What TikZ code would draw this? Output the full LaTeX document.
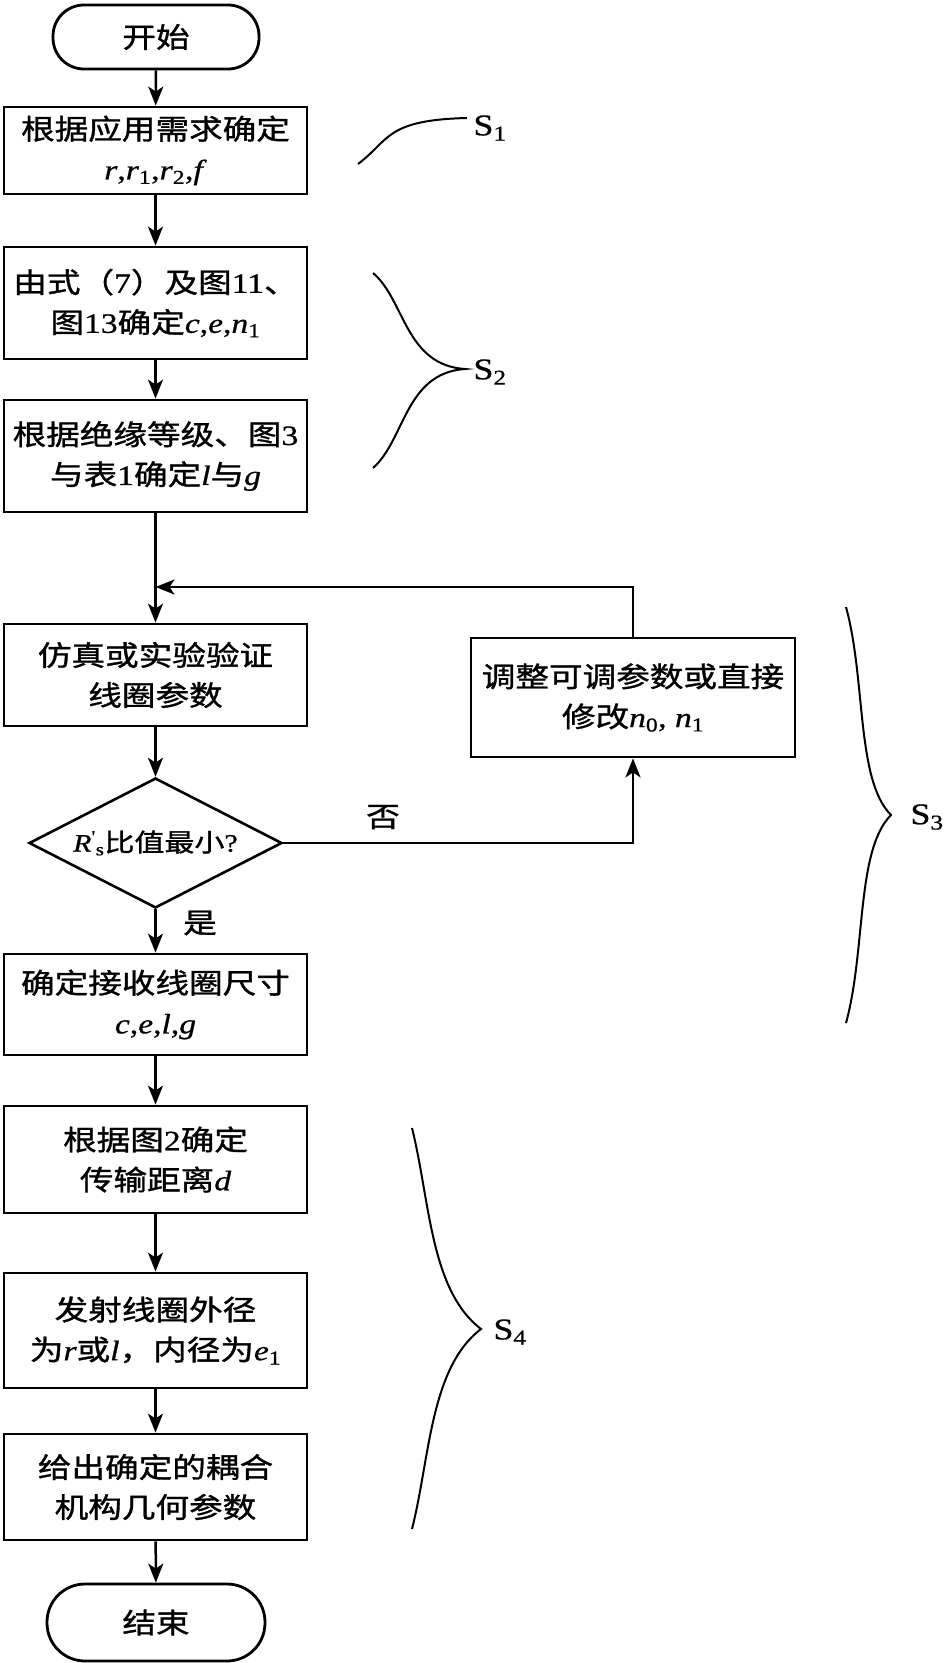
\documentclass[tikz,border=0pt]{standalone}
\usepackage{fontspec}
\setmainfont[FakeStretch=1.2,FakeBold=1.2]{Noto Sans CJK SC}
\newfontfamily\tnr[FakeStretch=1.2,FakeBold=0.8]{Liberation Serif}
\usepackage{tikz}
\usetikzlibrary{arrows.meta,shapes.geometric}

\newcommand{\lat}[1]{{\tnr #1}}
\newcommand{\va}[1]{{\tnr\itshape #1}}

\tikzset{
  box/.style={draw,line width=2.8pt,minimum width=303pt,inner sep=0pt,align=center,
    font=\fontsize{28}{40}\selectfont},
  term/.style={draw,line width=2.8pt,inner sep=0pt,font=\fontsize{28}{40}\selectfont},
  dec/.style={diamond,draw,line width=2.6pt,aspect=1.95,minimum width=253pt,
    minimum height=130pt,inner sep=0pt,font=\fontsize{25}{30}\selectfont},
  arr/.style={line width=2.5pt,-{Stealth[length=19pt,width=15pt,inset=5pt]}},
  curl/.style={line width=2pt},
  slab/.style={font=\tnr\fontsize{30}{34}\selectfont},
  tag/.style={font=\fontsize{28}{30}\selectfont}
}

\begin{document}
\begin{tikzpicture}[x=1pt,y=-1pt]
\useasboundingbox (0,0) rectangle (949,1663);

\node[term,rounded corners=31pt,minimum width=206pt,minimum height=64pt] (start) at (156,37) {开始};
\node[box,minimum height=87pt] (b1) at (155.5,150.5)
  {根据应用需求确定\\ \lat{\textit{r},\textit{r}\textsubscript{1},\textit{r}\textsubscript{2},\textit{f}}};
\node[box,minimum height=112pt] (b2) at (155.5,303)
  {由式（\lat{7}）及图\lat{11}、\\ 图\lat{13}确定\lat{\textit{c},\textit{e},\textit{n}\textsubscript{1}}};
\node[box,minimum height=112pt] (b3) at (155.5,456)
  {根据绝缘等级、图\lat{3}\\ 与表\lat{1}确定\va{l}与\va{g}};
\node[box,minimum height=102pt] (b4) at (155.5,675) {仿真或实验验证\\ 线圈参数};
\node[box,minimum width=324pt,minimum height=119pt] (b5) at (633,697.5)
  {调整可调参数或直接\\ 修改\lat{\textit{n}\textsubscript{0}, \textit{n}\textsubscript{1}}};
\node[dec] (d1) at (155.5,843)
  {\makebox[170pt]{\lat{\textit{R}\textsuperscript{'}\textsubscript{s}}比值最小\lat{?}}};
\node[box,minimum height=101pt] (b6) at (155.5,1004.5)
  {确定接收线圈尺寸\\ \lat{\textit{c},\textit{e},\textit{l},\textit{g}}};
\node[box,minimum height=107pt] (b7) at (155.5,1159.5) {根据图\lat{2}确定\\ 传输距离\va{d}};
\node[box,minimum height=115pt] (b8) at (155.5,1330.5)
  {发射线圈外径\\ 为\va{r}或\va{l}，内径为\lat{\textit{e}\textsubscript{1}}};
\node[box,minimum height=106pt] (b9) at (155.5,1487) {给出确定的耦合\\ 机构几何参数};
\node[term,rounded corners=38pt,minimum width=218pt,minimum height=77pt] (stop) at (156,1622.5) {结束};

\coordinate (join) at (155.5,587);

\draw[arr] (start) -- (b1);
\draw[arr] (b1) -- (b2);
\draw[arr] (b2) -- (b3);
\draw[arr] (b3) -- (b4);
\draw[arr] (b5.north) |- (join);
\draw[arr] (b4) -- (d1);
\draw[arr] (d1.east) -| (b5.south);
\node[tag] (no) at (383,817) {否};
\draw[arr] (d1.south) -- (b6.north);
\node[tag] (yes) at (200,923) {是};
\draw[arr] (b6) -- (b7);
\draw[arr] (b7) -- (b8);
\draw[arr] (b8) -- (b9);
\draw[arr] (b9) -- (stop);

\node[slab] (s1) at (490,128) {S\textsubscript{1}};
\node[slab] (s2) at (490,372) {S\textsubscript{2}};
\node[slab] (s3) at (927,817) {S\textsubscript{3}};
\node[slab] (s4) at (510,1332) {S\textsubscript{4}};

\draw[curl] (358,164) .. controls (390,140) and (385,120) .. (467,118);
\draw[curl] (373,273) .. controls (405,300) and (405,365) .. (465,369)
  .. controls (405,373) and (405,440) .. (373,468);
\draw[curl] (846,607) .. controls (866,680) and (856,780) .. (891,815)
  .. controls (856,850) and (866,950) .. (846,1023);
\draw[curl] (412,1128) .. controls (430,1200) and (430,1290) .. (481,1329)
  .. controls (430,1368) and (430,1458) .. (412,1529);
\end{tikzpicture}
\end{document}
